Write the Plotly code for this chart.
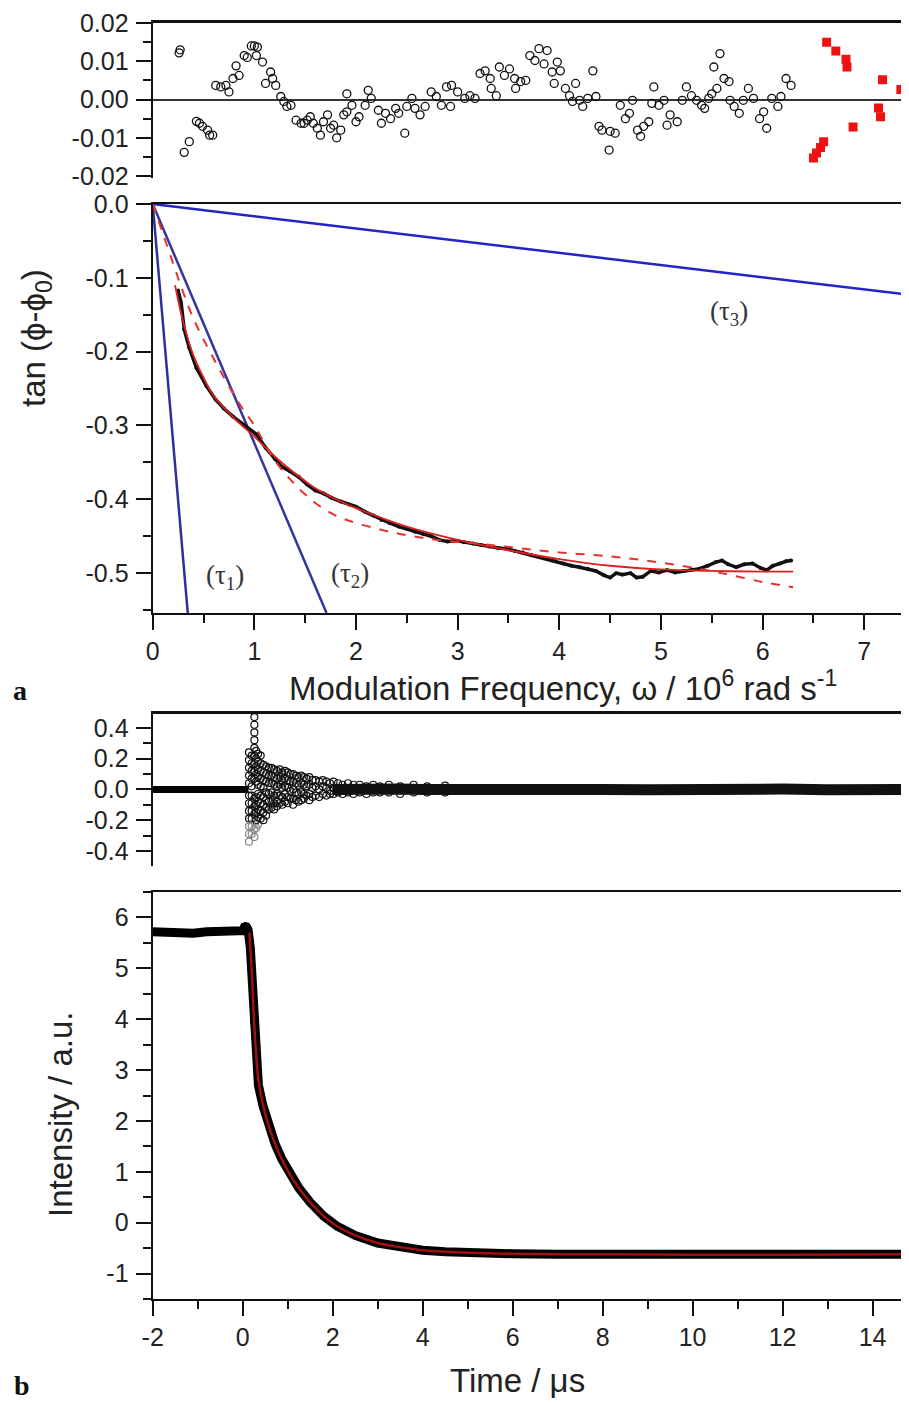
import plotly.graph_objects as go

# The page places the figure 8 px from the top-left corner, so the figure is sized
# to end exactly at the 909x1403 window edge.
OFF = 8
W, H = 909 - OFF, 1403 - OFF

# ---------------- Panel a: residuals (omega, value) ----------------
resid_a_points = [
    (0.26, 0.0122), (0.27, 0.0130), (0.31, -0.0138), (0.36, -0.0110), (0.43, -0.0057),
    (0.46, -0.0062), (0.49, -0.0070), (0.54, -0.0080), (0.56, -0.0093), (0.59, -0.0093),
    (0.62, 0.0037), (0.67, 0.0033), (0.72, 0.0037), (0.75, 0.0020), (0.79, 0.0055),
    (0.82, 0.0088), (0.85, 0.0063), (0.90, 0.0115), (0.93, 0.0110), (0.97, 0.0140),
    (1.00, 0.0140), (1.02, 0.0115), (1.03, 0.0137), (1.08, 0.0098), (1.11, 0.0042),
    (1.16, 0.0072), (1.18, 0.0055), (1.21, 0.0037), (1.26, 0.0008), (1.29, -0.0005),
    (1.32, -0.0018), (1.36, -0.0015), (1.41, -0.0054), (1.46, -0.0062), (1.49, -0.0062),
    (1.52, -0.0054), (1.55, -0.0045), (1.58, -0.0062), (1.62, -0.0075), (1.65, -0.0093),
    (1.68, -0.0058), (1.72, -0.0040), (1.75, -0.0075), (1.78, -0.0067), (1.81, -0.0100),
    (1.85, -0.0080), (1.88, -0.0040), (1.91, 0.0015), (1.91, -0.0032), (1.96, -0.0015),
    (2.00, -0.0058), (2.03, -0.0045), (2.09, -0.0015), (2.12, 0.0024), (2.15, 0.0003),
    (2.22, -0.0028), (2.25, -0.0062), (2.29, -0.0036), (2.34, -0.0050), (2.39, -0.0023),
    (2.42, -0.0036), (2.48, -0.0088), (2.50, -0.0018), (2.55, 0.0003), (2.58, -0.0023),
    (2.63, -0.0040), (2.68, -0.0018), (2.74, 0.0020), (2.79, 0.0008), (2.84, -0.0015),
    (2.89, 0.0033), (2.93, -0.0018), (2.94, 0.0037), (3.00, 0.0020), (3.07, 0.0003),
    (3.12, 0.0010), (3.17, 0.0003), (3.22, 0.0068), (3.27, 0.0075), (3.32, 0.0055),
    (3.33, 0.0029), (3.38, 0.0010), (3.41, 0.0085), (3.46, 0.0063), (3.51, 0.0080),
    (3.56, 0.0055), (3.57, 0.0029), (3.62, 0.0047), (3.67, 0.0050), (3.71, 0.0115),
    (3.76, 0.0102), (3.80, 0.0133), (3.85, 0.0093), (3.88, 0.0128), (3.93, 0.0072),
    (3.95, 0.0042), (3.98, 0.0098), (4.01, 0.0075), (4.06, 0.0029), (4.10, 0.0010),
    (4.13, -0.0005), (4.16, 0.0042), (4.20, -0.0002), (4.23, -0.0018), (4.28, 0.0003),
    (4.33, 0.0075), (4.36, 0.0008), (4.39, -0.0070), (4.42, -0.0080), (4.49, -0.0132),
    (4.50, -0.0083), (4.55, -0.0088), (4.60, -0.0015), (4.65, -0.0050), (4.69, -0.0036),
    (4.72, -0.0002), (4.77, -0.0080), (4.80, -0.0096), (4.83, -0.0070), (4.88, -0.0058),
    (4.91, -0.0010), (4.93, 0.0033), (4.98, -0.0015), (5.03, -0.0002), (5.06, -0.0067),
    (5.09, -0.0040), (5.16, -0.0058), (5.21, -0.0002), (5.25, 0.0033), (5.30, 0.0010),
    (5.35, -0.0002), (5.40, -0.0015), (5.43, -0.0023), (5.47, 0.0003), (5.50, 0.0015),
    (5.52, 0.0085), (5.55, 0.0029), (5.58, 0.0120), (5.62, 0.0055), (5.67, 0.0047),
    (5.68, -0.0002), (5.72, -0.0018), (5.77, -0.0036), (5.81, -0.0002), (5.86, 0.0029),
    (5.91, 0.0003), (5.97, -0.0050), (6.01, -0.0032), (6.04, -0.0075), (6.09, 0.0003),
    (6.15, -0.0018), (6.18, 0.0008), (6.23, 0.0055), (6.28, 0.0037),
]
resid_a_red = [
    (6.50, -0.0153), (6.53, -0.0140), (6.57, -0.0125), (6.60, -0.0110), (6.63, 0.0150),
    (6.72, 0.0127), (6.82, 0.0105), (6.83, 0.0085), (6.89, -0.0072), (7.14, -0.0022),
    (7.16, -0.0045), (7.18, 0.0052), (7.36, 0.0026),
]
resid_a_ticks = [0.02, 0.01, 0.0, -0.01, -0.02]
resid_a_labels = ["0.02", "0.01", "0.00", "-0.01", "-0.02"]

# ---------------- Panel a: tan(phi - phi0) ----------------
tan_data_w = [0.25, 0.28, 0.31, 0.36, 0.43, 0.53, 0.62, 0.70, 0.79, 0.90, 1.02, 1.11, 1.20, 1.27,
              1.35, 1.44, 1.52, 1.60, 1.68, 1.76, 1.85, 1.93, 2.00, 2.09, 2.17, 2.25, 2.33, 2.42,
              2.50, 2.58, 2.66, 2.74, 2.82, 2.90, 2.98, 3.06, 3.15, 3.23, 3.31, 3.40, 3.48, 3.56,
              3.64, 3.72, 3.80, 3.88, 3.96, 4.04, 4.12, 4.20, 4.28, 4.36, 4.44, 4.50, 4.56, 4.62,
              4.70, 4.76, 4.82, 4.90, 4.98, 5.06, 5.14, 5.22, 5.30, 5.38, 5.46, 5.54, 5.60, 5.66,
              5.74, 5.82, 5.90, 5.98, 6.04, 6.10, 6.17, 6.23, 6.28]
tan_data_v = [-0.117, -0.134, -0.170, -0.195, -0.222, -0.247, -0.265, -0.277, -0.288, -0.300,
              -0.312, -0.330, -0.345, -0.356, -0.362, -0.370, -0.380, -0.388, -0.392, -0.398,
              -0.403, -0.407, -0.410, -0.417, -0.422, -0.428, -0.432, -0.437, -0.440, -0.444,
              -0.447, -0.450, -0.455, -0.457, -0.456, -0.458, -0.460, -0.462, -0.464, -0.466,
              -0.467, -0.470, -0.472, -0.475, -0.478, -0.481, -0.484, -0.487, -0.490, -0.492,
              -0.494, -0.497, -0.503, -0.506, -0.500, -0.502, -0.500, -0.506, -0.505, -0.497,
              -0.499, -0.496, -0.499, -0.497, -0.495, -0.494, -0.490, -0.485, -0.483, -0.488,
              -0.492, -0.488, -0.487, -0.493, -0.496, -0.490, -0.487, -0.484, -0.483]
tan_fit_w = [0.22, 0.30, 0.40, 0.50, 0.60, 0.80, 1.00, 1.20, 1.40, 1.60, 1.80, 2.00, 2.50, 3.00,
             3.50, 4.00, 4.50, 5.00, 5.50, 6.00, 6.30]
tan_fit_v = [-0.110, -0.160, -0.205, -0.235, -0.260, -0.290, -0.315, -0.342, -0.365, -0.385,
             -0.400, -0.412, -0.437, -0.455, -0.469, -0.481, -0.490, -0.495, -0.497, -0.498, -0.498]
tan_dash_w = [0.0, 0.10, 0.20, 0.28, 0.40, 0.59, 0.85, 1.00, 1.20, 1.40, 1.60, 1.80, 2.00, 2.40,
              2.80, 3.20, 3.60, 4.00, 4.40, 4.80, 5.20, 5.60, 6.00, 6.30]
tan_dash_v = [0.0, -0.040, -0.080, -0.112, -0.155, -0.207, -0.270, -0.300, -0.347, -0.380,
              -0.405, -0.422, -0.432, -0.446, -0.455, -0.460, -0.466, -0.472, -0.476, -0.482,
              -0.490, -0.500, -0.512, -0.519]
tau1_w, tau1_v = [0.0, 0.345], [0.0, -0.554]
tau2_w, tau2_v = [0.0, 1.71], [0.0, -0.554]
tau3_w, tau3_v = [0.0, 7.44], [0.0, -0.123]
tan_ticks = [0.0, -0.1, -0.2, -0.3, -0.4, -0.5]
tan_labels = ["0.0", "-0.1", "-0.2", "-0.3", "-0.4", "-0.5"]
omega_ticks = [0, 1, 2, 3, 4, 5, 6, 7]

# ---------------- Panel b: residuals ----------------
spike_t = [0.14, 0.20, 0.26, 0.30, 0.34, 0.40, 0.46, 0.52, 0.58, 0.64, 0.70, 0.76, 0.82, 0.88,
           0.94, 1.00, 1.06, 1.12, 1.18, 1.24, 1.30, 1.36, 1.42, 1.48, 1.55, 1.62, 1.70, 1.78,
           1.86, 1.94, 2.02, 2.12, 2.22, 2.34, 2.46, 2.60, 2.75, 2.90, 3.05, 3.25, 3.50, 3.80,
           4.10, 4.50]
spike_r = [
    [0.24, 0.19, 0.14, 0.09, 0.04, -0.04, -0.09, -0.14, -0.19, -0.24, -0.29, -0.34],
    [0.22, 0.17, 0.12, 0.07, 0.02, -0.04, -0.09, -0.14, -0.19, -0.24, -0.29],
    [0.47, 0.42, 0.37, 0.32, 0.27, 0.22, 0.17, 0.12, 0.07, -0.06, -0.11, -0.16, -0.21, -0.26, -0.31],
    [0.25, 0.20, 0.15, 0.10, 0.05, -0.05, -0.10, -0.15, -0.20, -0.25],
    [0.23, 0.18, 0.13, 0.08, 0.03, -0.03, -0.08, -0.13, -0.18, -0.23],
    [0.22, 0.17, 0.12, 0.07, 0.02, -0.04, -0.09, -0.14, -0.19],
    [0.16, 0.11, 0.06, 0.01, -0.05, -0.10, -0.15, -0.20],
    [0.15, 0.10, 0.05, -0.02, -0.07, -0.12, -0.17],
    [0.14, 0.09, 0.04, -0.03, -0.08, -0.13],
    [0.14, 0.09, 0.04, -0.02, -0.07, -0.12],
    [0.13, 0.08, 0.03, -0.04, -0.09, -0.13],
    [0.12, 0.07, 0.02, -0.03, -0.08, -0.11],
    [0.13, 0.08, 0.03, -0.04, -0.09],
    [0.11, 0.06, 0.01, -0.05, -0.10],
    [0.12, 0.07, 0.02, -0.03, -0.08],
    [0.11, 0.06, 0.01, -0.05, -0.09],
    [0.10, 0.05, -0.01, -0.06],
    [0.10, 0.05, 0.00, -0.06, -0.10],
    [0.09, 0.04, -0.02, -0.07],
    [0.08, 0.03, -0.03, -0.08],
    [0.09, 0.04, -0.02, -0.07],
    [0.08, 0.03, -0.03, -0.06],
    [0.07, 0.02, -0.04],
    [0.08, 0.03, -0.03, -0.07],
    [0.06, 0.01, -0.05],
    [0.06, 0.02, -0.04],
    [0.05, 0.00, -0.05],
    [0.06, 0.02, -0.03],
    [0.05, 0.01, -0.04],
    [0.04, -0.01, -0.03],
    [0.05, 0.01, -0.03],
    [0.04, -0.02],
    [0.03, -0.03],
    [0.04, -0.02],
    [0.03, -0.03],
    [0.03, -0.02],
    [0.02, -0.03],
    [0.03, -0.02],
    [0.02, -0.02],
    [0.03, -0.02],
    [0.02, -0.03],
    [0.03, -0.02],
    [0.02, -0.02],
    [0.025, -0.02],
]
pre_t, pre_r = [-2.0, -1.0, 0.0, 0.13], [0.0, 0.002, -0.002, 0.0]
band_t = [2.0, 2.5, 3.0, 3.5, 4.0, 5.0, 6.0, 7.0, 8.0, 9.0, 10.0, 11.0, 12.0, 13.0, 14.0, 14.81]
band_r = [0.0, 0.005, -0.005, 0.003, 0.0, 0.004, -0.003, 0.002, 0.0, -0.002, 0.003, 0.0,
          0.002, -0.002, 0.003, 0.0]
resid_b_ticks = [0.4, 0.2, 0.0, -0.2, -0.4]
resid_b_labels = ["0.4", "0.2", "0.0", "-0.2", "-0.4"]

# ---------------- Panel b: intensity ----------------
int_t = [-2.0, -1.7, -1.4, -1.1, -0.8, -0.5, -0.2, 0.0, 0.06, 0.12, 0.17, 0.21, 0.23, 0.27, 0.31,
         0.35, 0.45, 0.57, 0.72, 0.87, 1.05, 1.25, 1.50, 1.80, 2.10, 2.50, 3.00, 3.50, 4.00, 4.50,
         5.00, 6.00, 7.00, 8.00, 10.0, 12.0, 14.0, 14.81]
int_v = [5.72, 5.70, 5.71, 5.69, 5.72, 5.73, 5.71, 5.74, 5.85, 5.76, 5.40, 4.80, 3.95, 3.65, 3.10,
         2.70, 2.30, 1.92, 1.55, 1.25, 0.95, 0.68, 0.40, 0.13, -0.07, -0.25, -0.40, -0.48, -0.54,
         -0.57, -0.59, -0.61, -0.62, -0.62, -0.63, -0.63, -0.62, -0.62]
fit_t = [0.15, 0.21, 0.25, 0.30, 0.35, 0.45, 0.57, 0.72, 0.87, 1.05, 1.25, 1.50, 1.80, 2.10, 2.50,
         3.00, 3.50, 4.00, 4.50, 5.00, 6.00, 7.00, 8.00, 10.0, 12.0, 14.81]
fit_v = [5.70, 4.80, 4.00, 3.30, 2.80, 2.32, 1.93, 1.55, 1.25, 0.95, 0.68, 0.40, 0.13, -0.07,
         -0.25, -0.40, -0.48, -0.54, -0.57, -0.59, -0.61, -0.62, -0.62, -0.63, -0.63, -0.62]
int_ticks = [-1, 0, 1, 2, 3, 4, 5, 6]
time_ticks = [-2, 0, 2, 4, 6, 8, 10, 12, 14]

# ---------------- Figure ----------------
FONT = "Liberation Sans, Arial, sans-serif"
TICK_FONT = dict(family=FONT, size=25, color="#222")


def py(p):
    """page pixel row -> paper fraction"""
    return 1 - (p - OFF) / H


def px(p):
    """page pixel column -> paper fraction"""
    return (p - OFF) / W


XDOM = [px(152.7), 1.0]
fig = go.Figure()

# panel a residuals
fig.add_trace(go.Scatter(x=[p[0] for p in resid_a_points], y=[p[1] for p in resid_a_points],
                         mode="markers", xaxis="x", yaxis="y",
                         marker=dict(symbol="circle-open", size=8, color="#111", line=dict(width=1.3))))
fig.add_trace(go.Scatter(x=[p[0] for p in resid_a_red], y=[p[1] for p in resid_a_red],
                         mode="markers", xaxis="x", yaxis="y",
                         marker=dict(symbol="square", size=9, color="#ee1111")))

# panel a tan
for wv, vv, col in [(tau1_w, tau1_v, "#2e2e9c"), (tau2_w, tau2_v, "#35359f"), (tau3_w, tau3_v, "#2323c8")]:
    fig.add_trace(go.Scatter(x=wv, y=vv, mode="lines", xaxis="x2", yaxis="y2",
                             line=dict(color=col, width=2.5)))
fig.add_trace(go.Scatter(x=tan_data_w, y=tan_data_v, mode="lines+markers", xaxis="x2", yaxis="y2",
                         line=dict(color="#111", width=3.5), marker=dict(size=4, color="#111")))
fig.add_trace(go.Scatter(x=tan_fit_w, y=tan_fit_v, mode="lines", xaxis="x2", yaxis="y2",
                         line=dict(color="#e02020", width=1.8, shape="spline")))
fig.add_trace(go.Scatter(x=tan_dash_w, y=tan_dash_v, mode="lines", xaxis="x2", yaxis="y2",
                         line=dict(color="#e83030", width=2, dash="dash", shape="spline")))

# panel b residuals
fig.add_trace(go.Scatter(x=pre_t, y=pre_r, mode="lines", xaxis="x3", yaxis="y3",
                         line=dict(color="#000", width=7)))
fig.add_trace(go.Scatter(x=band_t, y=band_r, mode="lines", xaxis="x3", yaxis="y3",
                         line=dict(color="#111", width=11)))
sx, sy = [], []
for t, col in zip(spike_t, spike_r):
    for r in col:
        sx.append(t)
        sy.append(r)
fig.add_trace(go.Scatter(x=sx, y=sy, mode="markers", xaxis="x3", yaxis="y3",
                         marker=dict(symbol="circle-open", size=7,
                                     color=["#888" if v < -0.2 else "#111" for v in sy],
                                     line=dict(width=1.2))))

# panel b intensity
fig.add_trace(go.Scatter(x=int_t, y=int_v, mode="lines+markers", xaxis="x4", yaxis="y4",
                         line=dict(color="#000", width=9), marker=dict(size=6, color="#000")))
fig.add_trace(go.Scatter(x=fit_t, y=fit_v, mode="lines", xaxis="x4", yaxis="y4",
                         line=dict(color="#a01010", width=2.5, shape="spline")))

axis_common = dict(showgrid=False, zeroline=False, linecolor="#111", linewidth=2.2,
                   tickcolor="#111", tickwidth=2, tickfont=TICK_FONT, automargin=False)


def ax(**kw):
    d = dict(axis_common)
    d.update(kw)
    return d


MINOR = dict(ticks="outside", ticklen=8, tickwidth=2, tickcolor="#111")

fig.update_layout(
    width=W, height=H, margin=dict(l=0, r=0, t=0, b=0, pad=0, autoexpand=False),
    paper_bgcolor="white", plot_bgcolor="white", showlegend=False,
    font=dict(family=FONT, color="#222"),
    xaxis=ax(domain=XDOM, range=[0, 7.44], anchor="y", side="top", showline=True,
             ticks="", showticklabels=False, linewidth=3),
    yaxis=ax(domain=[py(178), py(23)], range=[-0.0205, 0.02], anchor="x", showline=True,
             ticks="outside", ticklen=15, tickvals=resid_a_ticks, ticktext=resid_a_labels,
             minor=dict(dtick=0.005, **MINOR), ticklabelstandoff=2,
             zeroline=True, zerolinecolor="#333", zerolinewidth=2),
    xaxis2=ax(domain=XDOM, range=[0, 7.44], anchor="y2", showline=True, mirror=True,
              ticks="outside", ticklen=15, tickvals=omega_ticks, ticktext=[str(v) for v in omega_ticks],
              minor=dict(dtick=0.5, **MINOR), ticklabelstandoff=0),
    yaxis2=ax(domain=[py(613), py(204)], range=[-0.554, 0], anchor="x2", showline=True,
              ticks="outside", ticklen=15, tickvals=tan_ticks, ticktext=tan_labels,
              minor=dict(dtick=0.05, **MINOR), ticklabelstandoff=2),
    xaxis3=ax(domain=XDOM, range=[-2, 14.81], anchor="y3", side="top", showline=True,
              ticks="", showticklabels=False, linewidth=3),
    yaxis3=ax(domain=[py(866), py(714)], range=[-0.498, 0.49], anchor="x3", showline=True,
              ticks="outside", ticklen=15, tickvals=resid_b_ticks, ticktext=resid_b_labels,
              minor=dict(dtick=0.1, **MINOR), ticklabelstandoff=2),
    xaxis4=ax(domain=XDOM, range=[-2, 14.81], anchor="y4", showline=True, mirror=True,
              ticks="outside", ticklen=15, tickvals=time_ticks, ticktext=[str(v) for v in time_ticks],
              minor=dict(dtick=1, **MINOR), ticklabelstandoff=0),
    yaxis4=ax(domain=[py(1299), py(892)], range=[-1.5, 6.5], anchor="x4", showline=True,
              ticks="outside", ticklen=15, tickvals=int_ticks, ticktext=[str(v) for v in int_ticks],
              minor=dict(dtick=0.5, **MINOR), ticklabelstandoff=2),
)

TITLE_FONT = dict(family=FONT, size=33, color="#222")
ann = [
    dict(text="tan (ϕ-ϕ<sub>0</sub>)", x=px(36), y=py(338), textangle=-90, font=TITLE_FONT),
    dict(text="Modulation Frequency, ω / 10<sup>6</sup> rad s<sup>-1</sup>", x=px(563), y=py(686),
         font=TITLE_FONT),
    dict(text="Intensity / a.u.", x=px(60), y=py(1115), textangle=-90, font=TITLE_FONT),
    dict(text="Time / μs", x=px(517), y=py(1380), font=TITLE_FONT),
    dict(text="<b>a</b>", x=px(20), y=py(690), font=dict(family="Liberation Serif, serif", size=28, color="#111")),
    dict(text="<b>b</b>", x=px(22), y=py(1385), font=dict(family="Liberation Serif, serif", size=28, color="#111")),
]
for a in ann:
    fig.add_annotation(xref="paper", yref="paper", showarrow=False, xanchor="center", yanchor="middle", **a)

TAU_FONT = dict(family="Liberation Serif, serif", size=27, color="#333")
for txt, xv, yv in [("(τ<sub>3</sub>)", 5.67, -0.148), ("(τ<sub>1</sub>)", 0.71, -0.505),
                    ("(τ<sub>2</sub>)", 1.94, -0.503)]:
    fig.add_annotation(xref="x2", yref="y2", x=xv, y=yv, text=txt, showarrow=False, font=TAU_FONT)

fig.write_html("out.html")
